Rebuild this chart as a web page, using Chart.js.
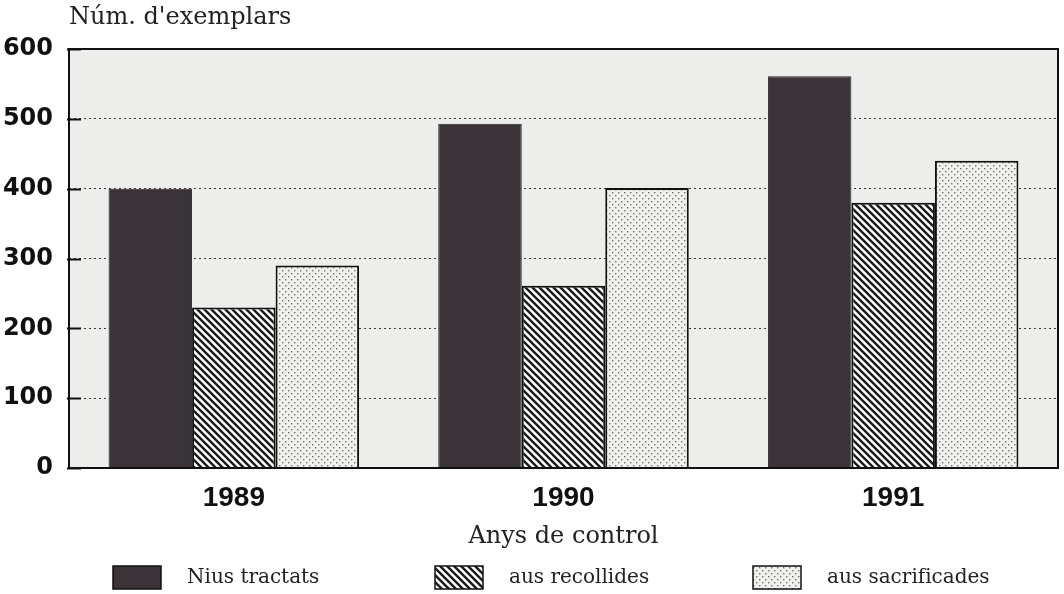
<!DOCTYPE html>
<html lang="ca">
<head>
<meta charset="UTF-8">
<title>Núm. d'exemplars</title>
<script src="https://cdn.jsdelivr.net/npm/chart.js"></script>
<style>
  html, body { margin: 0; padding: 0; background: #ffffff; }
  .wrap { width: 1064px; height: 594px; position: relative; }
</style>
</head>
<body>
<div class="wrap"><canvas id="chart" width="1064" height="594"></canvas></div>
<script>
// data
const years = ["1989", "1990", "1991"];
const niusTractats = [400, 493, 561];
const ausRecollides = [230, 261, 380];
const ausSacrificades = [290, 401, 440];
const yTicks = [0, 100, 200, 300, 400, 500, 600];

const serif = "'DejaVu Serif', 'Liberation Serif', serif";

function hatch() {
    const c = document.createElement("canvas");
    c.width = 7; c.height = 7;
    const g = c.getContext("2d");
    g.fillStyle = "#ffffff";
    g.fillRect(0, 0, 7, 7);
    g.strokeStyle = "#1a1a1a";
    g.lineWidth = 2.4;
    g.beginPath();
    g.moveTo(-1, -1); g.lineTo(8, 8);
    g.moveTo(-8, -1); g.lineTo(1, 8);
    g.moveTo(6, -1); g.lineTo(15, 8);
    g.stroke();
    return g.createPattern(c, "repeat");
}

function dots() {
    const c = document.createElement("canvas");
    c.width = 6; c.height = 6;
    const g = c.getContext("2d");
    g.fillStyle = "#f0f0ef";
    g.fillRect(0, 0, 6, 6);
    g.fillStyle = "#707070";
    g.fillRect(0, 0, 1.4, 1.4);
    g.fillRect(3, 3, 1.4, 1.4);
    return g.createPattern(c, "repeat");
}

const hatchFill = hatch();
const dotFill = dots();

// grey plot background, black frame, short solid tick stubs, y title, legend
const frame = {
    id: "frame",
    beforeDraw(chart) {
        const { ctx, chartArea: a } = chart;
        ctx.save();
        ctx.fillStyle = "#ededeb";
        ctx.fillRect(a.left, a.top, a.right - a.left, a.bottom - a.top);
        ctx.restore();
    },
    afterDatasetsDraw(chart) {
        const { ctx, chartArea: a } = chart;
        const y = chart.scales.y;
        ctx.save();
        ctx.strokeStyle = "#111";
        ctx.lineWidth = 2;
        ctx.beginPath();
        yTicks.forEach(v => {
            const py = Math.round(y.getPixelForValue(v)) + 0.5;
            ctx.moveTo(a.left - 2, py);
            ctx.lineTo(a.left + 12, py);
        });
        ctx.stroke();
        ctx.strokeRect(a.left, a.top, a.right - a.left, a.bottom - a.top);
        ctx.restore();
    },
    afterDraw(chart) {
        const { ctx, chartArea: a } = chart;
        ctx.save();
        ctx.fillStyle = "#222";
        ctx.font = "24px " + serif;
        ctx.textBaseline = "middle";
        ctx.fillText("Núm. d'exemplars", a.left, 18);

        const spots = [113, 435, 753];
        ctx.font = "20px " + serif;
        chart.data.datasets.forEach((ds, i) => {
            const x = spots[i];
            ctx.fillStyle = ds.backgroundColor;
            ctx.fillRect(x, 566, 48, 23);
            ctx.strokeStyle = "#111";
            ctx.lineWidth = 1.5;
            ctx.strokeRect(x, 566, 48, 23);
            ctx.fillStyle = "#222";
            ctx.fillText(ds.label, x + 74, 578);
        });
        ctx.restore();
    }
};

new Chart(document.getElementById("chart"), {
    type: "bar",
    data: {
        labels: years,
        datasets: [
            { label: "Nius tractats", data: niusTractats, backgroundColor: "#3a3439", borderColor: "#2a2529", borderWidth: 1 },
            { label: "aus recollides", data: ausRecollides, backgroundColor: hatchFill, borderColor: "#111", borderWidth: 2 },
            { label: "aus sacrificades", data: ausSacrificades, backgroundColor: dotFill, borderColor: "#111", borderWidth: 2 }
        ]
    },
    options: {
        responsive: false,
        animation: false,
        layout: { padding: { left: 0, right: 6, top: 49, bottom: 0 } },
        datasets: { bar: { categoryPercentage: 0.76, barPercentage: 1.0 } },
        plugins: {
            legend: { display: false },
            tooltip: { enabled: false }
        },
        scales: {
            x: {
                afterFit(axis) { axis.height = 126; },
                grid: { display: false },
                border: { display: false },
                ticks: { color: "#111", font: { family: "'Liberation Sans', Arial, sans-serif", size: 28, weight: "bold" }, padding: 5 },
                title: {
                    display: true,
                    text: "Anys de control",
                    color: "#222",
                    font: { family: serif, size: 24, lineHeight: 1.2 },
                    padding: { top: 0, bottom: 43 }
                }
            },
            y: {
                min: 0,
                max: 600,
                afterFit(axis) { axis.width = 69; },
                afterBuildTicks(axis) { axis.ticks = yTicks.map(v => ({ value: v })); },
                border: { display: false, dash: [2, 3] },
                grid: {
                    color: "#3a3a3a",
                    lineWidth: 1,
                    drawTicks: false
                },
                ticks: { color: "#111", font: { family: "'DejaVu Sans', sans-serif", size: 24, weight: "bold" }, padding: 16 }
            }
        }
    },
    plugins: [frame]
});
</script>
</body>
</html>
